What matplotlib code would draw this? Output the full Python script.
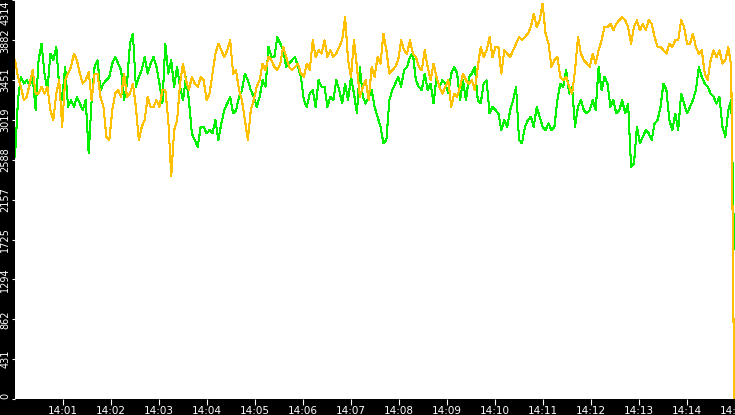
import numpy as np
import pandas as pd
import matplotlib
matplotlib.use("Agg")
import matplotlib.pyplot as plt
import matplotlib.dates as mdates

# values, one sample every ~3.7 s from 14:00 to 14:15
green = [
    2622, 3234, 3486, 3414, 3450, 3396, 3486, 3126, 3666, 3846, 3522, 3342, 3738, 3666, 3810, 3378, 3234, 3594,
    3162, 3234, 3162, 3270, 3198, 3126, 3234, 2658, 3234, 3594, 3666, 3342, 3414, 3450, 3486, 3630, 3702,
    3630, 3558, 3234, 3414, 3846, 3954, 3378, 3486, 3558, 3702, 3522, 3630, 3702, 3594, 3414, 3198, 3846, 3522,
    3666, 3378, 3594, 3378, 3234, 3486, 3234, 2874, 2802, 2730, 2946, 2946, 2874, 2910, 2874, 3018, 2802,
    2982, 3126, 3198, 3270, 3090, 3126, 3270, 3342, 3522, 3450, 3342, 3270, 3162, 3270, 3450, 3378, 3810, 3702,
    3702, 3918, 3846, 3774, 3594, 3630, 3666, 3702, 3594, 3486, 3234, 3162, 3306, 3342, 3162, 3450, 3378,
    3378, 3162, 3270, 3234, 3450, 3342, 3198, 3414, 3234, 3486, 3306, 3090, 3594, 3270, 3198, 3270, 3342, 3162,
    3054, 2946, 2766, 2802, 3234, 3342, 3414, 3486, 3378, 3558, 3594, 3702, 3738, 3450, 3378, 3342, 3522,
    3342, 3414, 3198, 3486, 3378, 3450, 3414, 3306, 3522, 3594, 3522, 3234, 3450, 3234, 3486, 3522, 3594, 3234,
    3198, 3414, 3450, 3090, 3162, 3126, 3090, 2910, 3018, 2946, 3126, 3234, 3378, 2802, 2766, 2946, 3018,
    3054, 2946, 3162, 3054, 2946, 2910, 2982, 2910, 2946, 3234, 3414, 3378, 3558, 3306, 3378, 2946, 3162, 3234,
    3126, 3090, 3126, 3234, 3126, 3594, 3342, 3486, 3414, 3162, 3234, 3090, 3126, 3234, 3090, 3198, 2514,
    2550, 2946, 2766, 2838, 2910, 2874, 2802, 2982, 3018, 3162, 3414, 3342, 3018, 2910, 3090, 2910, 3306, 3198,
    3090, 3162, 3234, 3342, 3594, 3486, 3414, 3378, 3306, 3270, 3198, 3270, 2946, 2838, 3126, 3234, 1620,
]

yellow = [
    3666, 3486, 3378, 3234, 3270, 3414, 3558, 3306, 3306, 3378, 3306, 3378, 3126, 3018, 3306, 3450, 2946, 3450,
    3522, 3594, 3738, 3666, 3522, 3414, 3450, 3540, 3234, 3522, 3522, 3270, 3162, 2838, 2802, 3126, 3306,
    3342, 3270, 3522, 3270, 3306, 3414, 3162, 2802, 2946, 3018, 3270, 3162, 3162, 3234, 3162, 3342, 3342, 3018,
    2410, 2910, 3018, 3414, 3630, 3450, 3342, 3486, 3414, 3378, 3486, 3450, 3234, 3306, 3522, 3738, 3846,
    3774, 3702, 3774, 3882, 3522, 3558, 3342, 3234, 3018, 2802, 3126, 3234, 3378, 3450, 3630, 3558, 3702, 3666,
    3594, 3558, 3630, 3810, 3702, 3594, 3558, 3594, 3630, 3522, 3486, 3630, 3558, 3882, 3702, 3774, 3738,
    3882, 3702, 3774, 3702, 3738, 3810, 3882, 4134, 3666, 3486, 3882, 3594, 3270, 3378, 3450, 3234, 3594, 3486,
    3702, 3630, 3954, 3774, 3522, 3558, 3594, 3666, 3882, 3774, 3738, 3882, 3738, 3702, 3594, 3558, 3774,
    3594, 3450, 3630, 3486, 3378, 3306, 3378, 3450, 3162, 3306, 3270, 3378, 3522, 3450, 3414, 3450, 3342, 3594,
    3810, 3702, 3774, 3918, 3702, 3810, 3810, 3522, 3774, 3738, 3702, 3774, 3846, 3918, 3882, 3918, 3954,
    4026, 4170, 4026, 4098, 4280, 3954, 3846, 3594, 3666, 3702, 3486, 3450, 3486, 3378, 3306, 3558, 3918, 3738,
    3666, 3630, 3594, 3738, 3630, 3774, 3882, 4026, 4026, 4062, 3990, 4062, 4098, 4134, 4098, 4026, 3846,
    4026, 4098, 3990, 4062, 3990, 4098, 4062, 3918, 3810, 3810, 3774, 3738, 3846, 3810, 3882, 3882, 4098, 4026,
    3846, 3846, 3954, 3810, 3738, 3774, 3522, 3450, 3666, 3774, 3702, 3774, 3630, 3666, 3810, 3594, 0,
]

y_ticks = [0, 431, 862, 1294, 1725, 2157, 2588, 3019, 3451, 3882, 4314]

times = pd.date_range("2024-01-01 14:00:00", "2024-01-01 14:14:59", periods=len(green))
x_start = pd.Timestamp("2024-01-01 14:00:00")
x_end = pd.Timestamp("2024-01-01 14:15:00")
x_ticks = pd.date_range("2024-01-01 14:01:00", "2024-01-01 14:15:00", freq="1min")

plt.rcParams["font.family"] = ["DejaVu Sans"]

fig = plt.figure(figsize=(7.35, 4.15), dpi=100, facecolor="black")
ax = fig.add_axes([15 / 735, 16 / 415, 720 / 735, 399 / 415])
ax.set_facecolor("white")

ax.plot(times, green, color="#00f000", lw=0.75, antialiased=False)
ax.plot(times, yellow, color="#ffc000", lw=0.75, antialiased=False)

ax.set_xlim(x_start, x_end)
ax.set_ylim(0, 4318)

for s in ax.spines.values():
    s.set_visible(False)

ax.set_xticks(x_ticks)
ax.xaxis.set_major_formatter(mdates.DateFormatter("%H:%M"))
ax.set_yticks(y_ticks)
ax.set_yticklabels([str(v) for v in y_ticks], rotation=90)
for lab in ax.get_yticklabels():
    lab.set_va("center")
ax.get_yticklabels()[0].set_va("bottom")
ax.get_yticklabels()[-1].set_va("top")

ax.tick_params(axis="x", colors="white", labelcolor="white", labelsize=7.5,
               direction="out", length=4, width=0.8, pad=1)
ax.tick_params(axis="y", colors="white", labelcolor="white", labelsize=7,
               direction="out", length=2.5, width=0.8, pad=0.8)

fig.savefig("out.png", dpi=100, facecolor="black")
